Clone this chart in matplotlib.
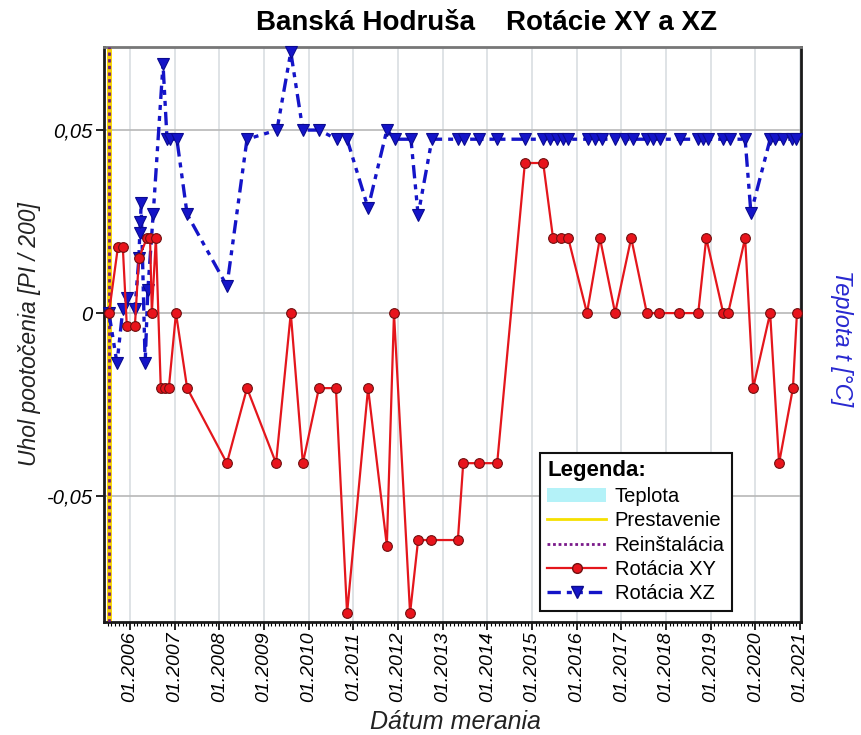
import matplotlib
matplotlib.use("Agg")
import matplotlib.pyplot as plt
from matplotlib.ticker import MultipleLocator, FixedLocator
from matplotlib.lines import Line2D
from matplotlib.patches import Patch

plt.rcParams['font.family'] = ['Liberation Sans', 'DejaVu Sans']

# measurement dates (decimal years) and readings, rotation XY
xy_dates = [2005.53, 2005.73, 2005.84, 2005.93, 2006.11, 2006.20, 2006.38, 2006.45,
            2006.49, 2006.58, 2006.69, 2006.78, 2006.87, 2007.03, 2007.28, 2008.17,
            2008.62, 2009.27, 2009.60, 2009.87, 2010.23, 2010.61, 2010.86, 2011.33,
            2011.75, 2011.91, 2012.27, 2012.45, 2012.74, 2013.34, 2013.46, 2013.81,
            2014.22, 2014.84, 2015.25, 2015.47, 2015.65, 2015.81, 2016.23, 2016.52,
            2016.86, 2017.22, 2017.57, 2017.84, 2018.29, 2018.72, 2018.90, 2019.28,
            2019.39, 2019.77, 2019.95, 2020.33, 2020.53, 2020.84, 2020.93]
xy_values = [0.0, 0.018, 0.018, -0.0036, -0.0036, 0.015, 0.0205, 0.0205,
             0.0, 0.0205, -0.0205, -0.0205, -0.0205, 0.0, -0.0205, -0.041,
             -0.0205, -0.041, 0.0, -0.041, -0.0205, -0.0205, -0.082, -0.0205,
             -0.0635, 0.0, -0.082, -0.062, -0.062, -0.062, -0.041, -0.041,
             -0.041, 0.041, 0.041, 0.0205, 0.0205, 0.0205, 0.0, 0.0205,
             0.0, 0.0205, 0.0, 0.0, 0.0, 0.0, 0.0205, 0.0,
             0.0, 0.0205, -0.0205, 0.0, -0.041, -0.0205, 0.0]

# rotation XZ
xz_dates = [2005.53, 2005.71, 2005.84, 2005.93, 2006.11, 2006.20, 2006.22, 2006.235,
            2006.25, 2006.34, 2006.40, 2006.52, 2006.74, 2006.83, 2006.90, 2007.05,
            2007.28, 2008.17, 2008.62, 2009.29, 2009.60, 2009.87, 2010.23, 2010.63,
            2010.86, 2011.33, 2011.75, 2011.93, 2012.29, 2012.45, 2012.76, 2013.34,
            2013.48, 2013.81, 2014.22, 2014.84, 2015.25, 2015.40, 2015.56, 2015.69,
            2015.81, 2016.25, 2016.41, 2016.57, 2016.86, 2017.08, 2017.26, 2017.57,
            2017.71, 2017.87, 2018.31, 2018.72, 2018.83, 2018.94, 2019.28, 2019.43,
            2019.77, 2019.90, 2020.33, 2020.44, 2020.62, 2020.82, 2020.91]
xz_values = [0.0, -0.0137, 0.001, 0.004, 0.001, 0.015, 0.022, 0.025,
             0.030, -0.0137, 0.0063, 0.027, 0.068, 0.0475, 0.0475, 0.0475,
             0.027, 0.0074, 0.0475, 0.050, 0.0713, 0.050, 0.050, 0.0475,
             0.0475, 0.0287, 0.050, 0.0475, 0.0475, 0.0268, 0.0475, 0.0475,
             0.0475, 0.0475, 0.0475, 0.0475, 0.0475, 0.0475, 0.0475, 0.0475,
             0.0475, 0.0475, 0.0475, 0.0475, 0.0475, 0.0475, 0.0475, 0.0475,
             0.0475, 0.0475, 0.0475, 0.0475, 0.0475, 0.0475, 0.0475, 0.0475,
             0.0475, 0.0273, 0.0475, 0.0475, 0.0475, 0.0475, 0.0475]

reinstall_date = 2005.53
year_ticks = list(range(2006, 2022))
year_labels = ["01.%d" % y for y in year_ticks]
y_ticks = [-0.05, 0.0, 0.05]
y_labels = ["-0,05", "0", "0,05"]

fig = plt.figure(figsize=(8.62, 7.35), dpi=100)
ax = fig.add_axes([0.1206, 0.1537, 0.8086, 0.7824])

ax.set_xlim(2005.418, 2021.02)
ax.set_ylim(-0.0844, 0.0727)

# grid
ax.xaxis.set_major_locator(FixedLocator(year_ticks))
ax.xaxis.set_minor_locator(MultipleLocator(1 / 12))
ax.set_xticklabels(year_labels, rotation=90, fontsize=14, style='italic')
ax.set_yticks(y_ticks)
ax.set_yticklabels(y_labels, fontsize=14.5, style='italic')
ax.grid(axis='x', which='major', color='#d9dee2', lw=1.2)
ax.grid(axis='y', which='major', color='#b8b8b8', lw=1.2)
ax.set_axisbelow(True)
ax.tick_params(axis='x', which='major', length=6, width=1.2, direction='out', pad=1)
ax.tick_params(axis='x', which='minor', length=3, width=0.8, direction='out')
ax.tick_params(axis='y', length=6, width=1.2, direction='out', pad=2)

# reinstallation / readjustment markers
ax.axvline(reinstall_date, color='#f5d000', lw=3.5, zorder=2)
ax.axvline(reinstall_date, color='#6a1a7a', lw=2, ls=(0, (1.2, 1.2)), zorder=3)

ax.plot(xz_dates, xz_values, color='#1414c8', lw=2.4, ls=(0, (4, 1.8, 1.5, 1.8, 1.5, 1.8)),
        marker='v', ms=8, mfc='#1414c8', mec='#0a0a90', mew=0.8, zorder=4, clip_on=False)
ax.plot(xy_dates, xy_values, color='#e4161c', lw=1.6, marker='o', ms=7,
        mfc='#e8141c', mec='#701010', mew=0.8, zorder=5, clip_on=False)

for side in ['left', 'bottom', 'right']:
    ax.spines[side].set_color('#1a1a1a')
    ax.spines[side].set_linewidth(2)
ax.spines['top'].set_color('#777777')
ax.spines['top'].set_linewidth(2)

ax.set_ylabel("Uhol pootočenia [PI / 200]", fontsize=16.5, style='italic', color='#222222', labelpad=4)
fig.text(0.528, 0.008, "Dátum merania", fontsize=18, style='italic', color='#222222',
         ha='center', va='baseline')

fig.text(0.976, 0.54, "Teplota t [°C]", rotation=270, fontsize=17, style='italic',
         color='#2828d0', ha='center', va='center')

fig.text(0.564, 0.969, "Banská Hodruša    Rotácie XY a XZ", fontsize=20, fontweight='bold',
         family=['Liberation Sans Narrow', 'Liberation Sans', 'DejaVu Sans'],
         ha='center', va='center')

handles = [
    Patch(facecolor='#b4f2f8', edgecolor='none'),
    Line2D([], [], color='#f5e000', lw=2),
    Line2D([], [], color='#7a1a8a', lw=2, ls=(0, (1, 1))),
    Line2D([], [], color='#e4161c', lw=1.6, marker='o', ms=7, mfc='#e8141c', mec='#701010'),
    Line2D([], [], color='#1414c8', lw=2.4, ls=(0, (4, 1.8, 1.5, 1.8, 1.5, 1.8)),
           marker='v', ms=8, mfc='#1414c8', mec='#0a0a90'),
]
labels = ["Teplota", "Prestavenie", "Reinštalácia", "Rotácia XY", "Rotácia XZ"]
leg = ax.legend(handles, labels, loc='lower left', bbox_to_anchor=(0.626, 0.02),
                borderaxespad=0,
                title="Legenda:", fontsize=14.5, title_fontproperties={'weight': 'bold', 'size': 16},
                frameon=True, fancybox=False, edgecolor='#111111', framealpha=1,
                handlelength=2.9, handletextpad=0.45, labelspacing=0.27, borderpad=0.35)
leg._legend_box.align = 'left'
leg.get_frame().set_linewidth(1.5)

fig.savefig("out.png", dpi=100)
